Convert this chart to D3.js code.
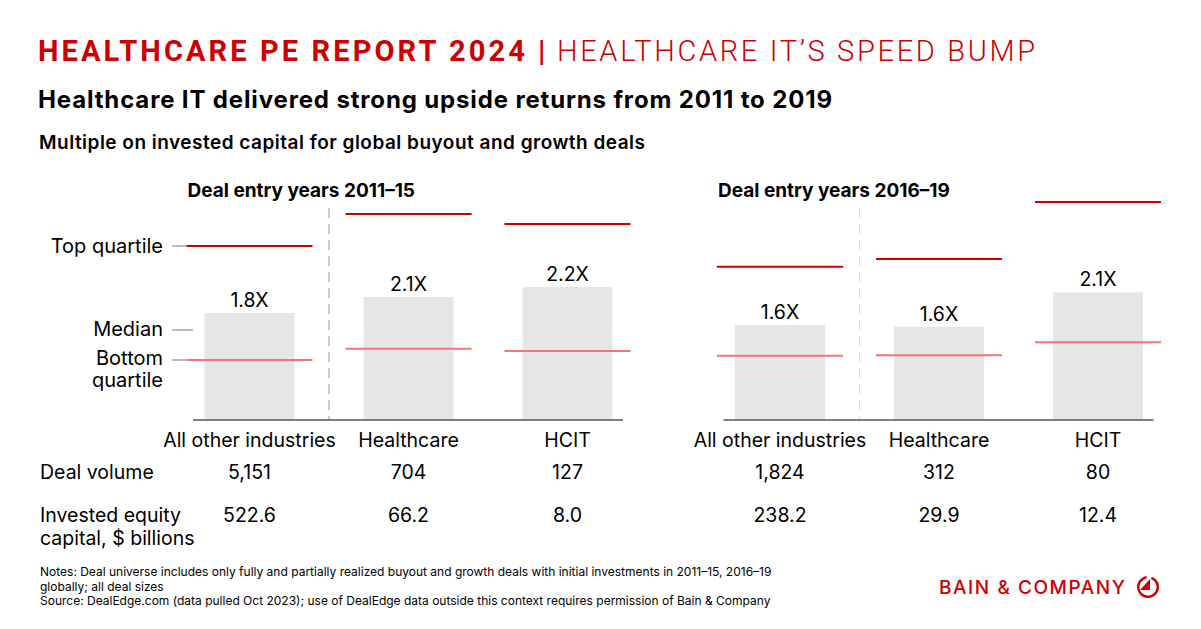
<!DOCTYPE html>
<html>
<head>
<meta charset="utf-8">
<script src="https://cdn.jsdelivr.net/npm/d3@7"></script>
<style>
  body { margin: 0; background: #fff; }
  text { font-family: Inter, "Noto Sans", sans-serif; }
</style>
</head>
<body>
<script>
// Multiple on invested capital
const width = 1201;
const height = 629;

const categories = ["All other industries", "Healthcare", "HCIT"];
const panelTitles = ["Deal entry years 2011–15", "Deal entry years 2016–19"];

const median1115 = [1.80, 2.07, 2.24];
const top1115 = [2.93, 3.47, 3.30];
const bottom1115 = [1.01, 1.20, 1.16];
const medianLabels1115 = ["1.8X", "2.1X", "2.2X"];
const volume1115 = ["5,151", "704", "127"];
const equity1115 = ["522.6", "66.2", "8.0"];

const median1619 = [1.60, 1.57, 2.15];
const top1619 = [2.58, 2.71, 3.67];
const bottom1619 = [1.08, 1.09, 1.31];
const medianLabels1619 = ["1.6X", "1.6X", "2.1X"];
const volume1619 = ["1,824", "312", "80"];
const equity1619 = ["238.2", "29.9", "12.4"];

const notes = [
  "Notes: Deal universe includes only fully and partially realized buyout and growth deals with initial investments in 2011–15, 2016–19",
  "globally; all deal sizes",
  "Source: DealEdge.com (data pulled Oct 2023); use of DealEdge data outside this context requires permission of Bain & Company"
];

const red = "#cc0000";
const lightRed = "#f27575";
const bodySize = "19.5px";

const svg = d3.select("body").append("svg")
    .attr("width", width)
    .attr("height", height);

// --- header ---
const head = svg.append("text")
    .attr("x", 38)
    .attr("y", 61)
    .attr("fill", red)
    .style("font-family", "Roboto, Inter, sans-serif")
    .style("font-size", "29px");
head.append("tspan")
    .attr("font-weight", 700)
    .attr("textLength", 487)
    .attr("lengthAdjust", "spacing")
    .text("HEALTHCARE PE REPORT 2024");
head.append("tspan")
    .attr("x", 538)
    .attr("font-weight", 700)
    .text("|");
head.append("tspan")
    .attr("x", 557)
    .attr("font-weight", 300)
    .attr("textLength", 478)
    .attr("lengthAdjust", "spacing")
    .text("HEALTHCARE IT’S SPEED BUMP");

svg.append("text")
    .attr("x", 38)
    .attr("y", 108)
    .attr("font-weight", 700)
    .style("font-size", "24px")
    .attr("textLength", 794)
    .attr("lengthAdjust", "spacing")
    .attr("fill", "#000")
    .text("Healthcare IT delivered strong upside returns from 2011 to 2019");

svg.append("text")
    .attr("x", 39)
    .attr("y", 149)
    .attr("font-weight", 600)
    .style("font-size", "19px")
    .attr("textLength", 606)
    .attr("lengthAdjust", "spacing")
    .attr("fill", "#000")
    .text("Multiple on invested capital for global buyout and growth deals");

// --- panels ---
const y = d3.scaleLinear().domain([0, 4]).range([420, 420 - 4 * 59.4]);

const panels = [
  { title: panelTitles[0], range: [170, 647], median: median1115, top: top1115, bottom: bottom1115,
    labels: medianLabels1115, volume: volume1115, equity: equity1115, divider: "#999" },
  { title: panelTitles[1], range: [700.5, 1177.5], median: median1619, top: top1619, bottom: bottom1619,
    labels: medianLabels1619, volume: volume1619, equity: equity1619, divider: "#ddd" }
];

panels.forEach(p => {
  const x = d3.scaleBand()
      .domain(categories)
      .range(p.range)
      .paddingInner(0.434)
      .paddingOuter(0.217);
  const cx = c => x(c) + x.bandwidth() / 2;
  const half = 63;
  const rows = categories.map((c, i) => ({
    c, median: p.median[i], top: p.top[i], bottom: p.bottom[i],
    label: p.labels[i], volume: p.volume[i], equity: p.equity[i]
  }));

  const g = svg.append("g");

  g.append("text")
      .attr("x", x(categories[0]) - 17)
      .attr("y", 197)
      .attr("font-weight", 700)
      .style("font-size", "19px")
      .text(p.title);

  // dashed divider between first and second group
  const dx = (cx(categories[0]) + cx(categories[1])) / 2;
  g.append("line")
      .attr("x1", dx).attr("x2", dx)
      .attr("y1", 208).attr("y2", 420)
      .attr("stroke", p.divider)
      .attr("stroke-width", 1)
      .attr("stroke-dasharray", "10,6");

  g.selectAll("rect.bar")
    .data(rows)
    .join("rect")
      .attr("class", "bar")
      .attr("x", d => x(d.c))
      .attr("width", x.bandwidth())
      .attr("y", d => y(d.median))
      .attr("height", d => y(0) - y(d.median))
      .attr("fill", "#e6e6e6");

  g.append("line")
      .attr("x1", p.range[0] + 23).attr("x2", p.range[1] - 24)
      .attr("y1", y(0)).attr("y2", y(0))
      .attr("stroke", "#555")
      .attr("stroke-width", 1.5);

  g.selectAll("line.top")
    .data(rows)
    .join("line")
      .attr("class", "top")
      .attr("x1", d => cx(d.c) - half).attr("x2", d => cx(d.c) + half)
      .attr("y1", d => y(d.top)).attr("y2", d => y(d.top))
      .attr("stroke", red)
      .attr("stroke-width", 2);

  g.selectAll("line.bottom")
    .data(rows)
    .join("line")
      .attr("class", "bottom")
      .attr("x1", d => cx(d.c) - half).attr("x2", d => cx(d.c) + half)
      .attr("y1", d => y(d.bottom)).attr("y2", d => y(d.bottom))
      .attr("stroke", lightRed)
      .attr("stroke-width", 2);

  g.selectAll("text.val")
    .data(rows)
    .join("text")
      .attr("class", "val")
      .attr("x", d => cx(d.c))
      .attr("y", d => y(d.median) - 6)
      .attr("text-anchor", "middle")
      .style("font-size", bodySize)
      .text(d => d.label);

  g.selectAll("text.cat")
    .data(rows)
    .join("text")
      .attr("class", "cat")
      .attr("x", d => cx(d.c))
      .attr("y", 447)
      .attr("text-anchor", "middle")
      .style("font-size", bodySize)
      .text(d => d.c);

  g.selectAll("text.vol")
    .data(rows)
    .join("text")
      .attr("class", "vol")
      .attr("x", d => cx(d.c))
      .attr("y", 479)
      .attr("text-anchor", "middle")
      .style("font-size", bodySize)
      .text(d => d.volume);

  g.selectAll("text.eq")
    .data(rows)
    .join("text")
      .attr("class", "eq")
      .attr("x", d => cx(d.c))
      .attr("y", 522)
      .attr("text-anchor", "middle")
      .style("font-size", bodySize)
      .text(d => d.equity);
});

// --- legend on the left ---
const legend = svg.append("g").style("font-size", "20px");
[
  { t: "Top quartile", y: 253 },
  { t: "Median", y: 336 },
  { t: "Bottom", y: 365 },
  { t: "quartile", y: 387 }
].forEach(d => {
  legend.append("text")
      .attr("x", 163)
      .attr("y", d.y)
      .attr("text-anchor", "end")
      .text(d.t);
});
[
  { y: 246, x2: 186 },
  { y: 330, x2: 193 },
  { y: 360, x2: 186 }
].forEach(d => {
  legend.append("line")
      .attr("x1", 172).attr("x2", d.x2)
      .attr("y1", d.y).attr("y2", d.y)
      .attr("stroke", "#777")
      .attr("stroke-width", 1);
});

// row labels
svg.append("text").attr("x", 40).attr("y", 479).style("font-size", bodySize).text("Deal volume");
svg.append("text").attr("x", 40).attr("y", 522).style("font-size", bodySize).text("Invested equity");
svg.append("text").attr("x", 40).attr("y", 545).style("font-size", bodySize).text("capital, $ billions");

// notes
svg.append("g")
  .selectAll("text")
  .data(notes)
  .join("text")
    .attr("x", 40)
    .attr("y", (d, i) => 576 + i * 14.5)
    .style("font-size", "12px")
    .attr("fill", "#000")
    .text(d => d);

// logo
svg.append("text")
    .attr("x", 939)
    .attr("y", 594)
    .attr("fill", red)
    .attr("font-weight", 500)
    .style("font-size", "19px")
    .attr("textLength", 186)
    .attr("lengthAdjust", "spacing")
    .text("BAIN & COMPANY");

const icon = svg.append("g").attr("transform", "translate(1148,587)");
icon.append("path")
    .attr("d", d3.arc()({ innerRadius: 8.5, outerRadius: 11, startAngle: 0.35, endAngle: 2 * Math.PI - 0.15 }))
    .attr("fill", red);
icon.append("path")
    .attr("d", "M2,-8 L2,3 L-8,3 Z")
    .attr("fill", red);
</script>
</body>
</html>
